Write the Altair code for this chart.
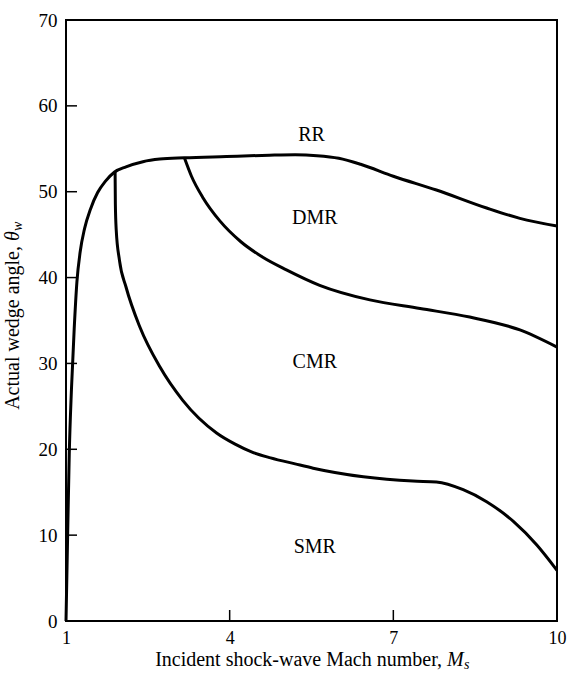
import altair as alt
import pandas as pd

# ---- data ----
main_x = [1.0, 1.03, 1.06, 1.10, 1.15, 1.20, 1.26, 1.34, 1.45, 1.58, 1.72, 1.89, 2.10, 2.41,
          2.72, 3.17, 3.94, 4.73, 5.2, 5.6, 6.0, 6.4, 7.0, 7.79, 8.71, 9.32, 10.0]
main_y = [0.0, 10.0, 19.5, 27.0, 34.0, 39.5, 43.0, 45.7, 48.0, 49.9, 51.2, 52.3, 52.9, 53.5,
          53.8, 53.95, 54.1, 54.25, 54.3, 54.2, 53.9, 53.2, 51.8, 50.2, 48.1, 46.9, 46.0]

dmr_x = [3.17, 3.30, 3.51, 3.82, 4.20, 4.60, 5.04, 5.65, 6.57, 7.49, 8.40, 9.32, 10.0]
dmr_y = [53.95, 51.8, 49.3, 46.6, 44.2, 42.4, 40.9, 39.1, 37.4, 36.4, 35.4, 33.9, 31.9]

smr_x = [1.90, 1.905, 1.92, 1.98, 2.10, 2.35, 2.72, 3.14, 3.76, 4.10, 4.40, 4.75, 5.20, 5.53,
         6.45, 7.36, 7.79, 8.28, 8.71, 9.20, 9.63, 10.0]
smr_y = [52.3, 48.5, 45.6, 42.0, 38.9, 34.3, 29.6, 25.7, 21.9, 20.6, 19.7, 19.0, 18.3, 17.8,
         16.8, 16.3, 16.2, 15.3, 13.9, 11.6, 8.85, 5.9]

region_names = ["RR", "DMR", "CMR", "SMR"]
region_x = [5.5, 5.56, 5.56, 5.56]
region_y = [56.6, 46.9, 30.2, 8.65]

x_label_values = [1, 4, 7, 10]
y_label_values = [0, 10, 20, 30, 40, 50, 60, 70]
x_inner_ticks = [4, 7]
y_inner_ticks = [10, 20, 30, 40, 50, 60]

FONT = "Liberation Serif"
W, H = 491, 601

curves = pd.concat([
    pd.DataFrame({"x": main_x, "y": main_y, "curve": "main", "o": range(len(main_x))}),
    pd.DataFrame({"x": dmr_x, "y": dmr_y, "curve": "dmr", "o": range(len(dmr_x))}),
    pd.DataFrame({"x": smr_x, "y": smr_y, "curve": "smr", "o": range(len(smr_x))}),
])
regions = pd.DataFrame({"name": region_names, "x": region_x, "y": region_y})

xscale = alt.Scale(domain=[1, 10], nice=False, zero=False)
yscale = alt.Scale(domain=[0, 70], nice=False, zero=False)

xaxis = alt.Axis(values=x_label_values, format="d", title=None, grid=False, ticks=False, tickSize=0,
                 domain=False, labelFont=FONT, labelFontSize=18, labelColor="black",
                 labelPadding=8, labelFlush=False, labelOverlap=False)
yaxis = alt.Axis(values=y_label_values, format="d", title=None, grid=False, ticks=False, tickSize=0,
                 domain=False, labelFont=FONT, labelFontSize=19, labelColor="black",
                 labelPadding=9, labelFlush=False, labelOverlap=False)

lines = alt.Chart(curves).mark_line(color="black", strokeWidth=3, interpolate="monotone").encode(
    x=alt.X("x:Q", scale=xscale, axis=xaxis),
    y=alt.Y("y:Q", scale=yscale, axis=yaxis),
    detail="curve:N",
    order="o:Q",
)

xt = alt.Chart(pd.DataFrame({"t": x_inner_ticks})).mark_rule(color="black", strokeWidth=1.5).encode(
    x=alt.X("t:Q", scale=xscale), y=alt.value(H), y2=alt.value(H - 11))
yt = alt.Chart(pd.DataFrame({"t": y_inner_ticks})).mark_rule(color="black", strokeWidth=1.5).encode(
    y=alt.Y("t:Q", scale=yscale), x=alt.value(0), x2=alt.value(11))

labels = alt.Chart(regions).mark_text(font=FONT, fontSize=20, color="black").encode(
    x=alt.X("x:Q", scale=xscale), y=alt.Y("y:Q", scale=yscale), text="name:N")

# x-axis title: "Incident shock-wave Mach number, M_s"
xt1 = alt.Chart(pd.DataFrame({"t": ["Incident shock-wave Mach number,"]})).mark_text(
    font=FONT, fontSize=20, color="black", align="right", baseline="alphabetic").encode(
    x=alt.value(376), y=alt.value(646), text="t:N")
xt2 = alt.Chart(pd.DataFrame({"t": ["M"]})).mark_text(
    font=FONT, fontSize=20, fontStyle="italic", color="black", align="left", baseline="alphabetic").encode(
    x=alt.value(381), y=alt.value(646), text="t:N")
xt3 = alt.Chart(pd.DataFrame({"t": ["s"]})).mark_text(
    font=FONT, fontSize=14, fontStyle="italic", color="black", align="left", baseline="alphabetic").encode(
    x=alt.value(398), y=alt.value(649), text="t:N")

# y-axis title: "Actual wedge angle, θ_w"
yt1 = alt.Chart(pd.DataFrame({"t": ["Actual wedge angle,"]})).mark_text(
    font=FONT, fontSize=20, color="black", align="right", baseline="middle", angle=270).encode(
    x=alt.value(-53), y=alt.value(226), text="t:N")
yt2 = alt.Chart(pd.DataFrame({"t": ["θ"]})).mark_text(
    font=FONT, fontSize=20, fontStyle="italic", color="black", align="left", baseline="middle", angle=270).encode(
    x=alt.value(-53), y=alt.value(221), text="t:N")
yt3 = alt.Chart(pd.DataFrame({"t": ["w"]})).mark_text(
    font=FONT, fontSize=14, fontStyle="italic", color="black", align="left", baseline="middle", angle=270).encode(
    x=alt.value(-48), y=alt.value(211), text="t:N")

chart = alt.layer(lines, xt, yt, labels, xt1, xt2, xt3, yt1, yt2, yt3).properties(
    width=W, height=H,
    autosize=alt.AutoSizeParams(type="none"),
    padding={"left": 66, "top": 20, "right": 10, "bottom": 52},
    background="white",
).configure_view(stroke="black", strokeWidth=2)

chart.save("out.html", embed_options={"renderer": "svg", "actions": False})
